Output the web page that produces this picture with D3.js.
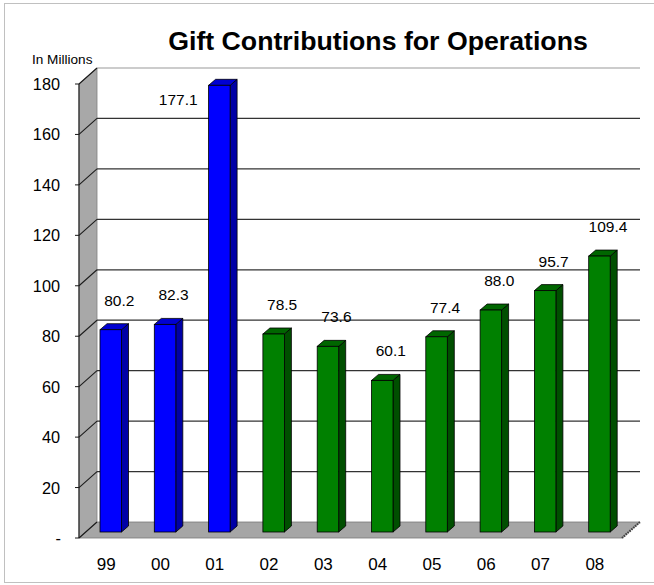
<!DOCTYPE html>
<html><head><meta charset="utf-8">
<script src="https://cdn.jsdelivr.net/npm/d3@7"></script>
<style>body{margin:0;background:#fff}svg{display:block;font-family:"Liberation Sans",Arial,sans-serif}</style>
</head><body><svg id="c" width="654" height="585"></svg>
<script>
const categories = ["99","00","01","02","03","04","05","06","07","08"];
const values = [80.2,82.3,177.1,78.5,73.6,60.1,77.4,88.0,95.7,109.4];
const valueLabels = ["80.2","82.3","177.1","78.5","73.6","60.1","77.4","88.0","95.7","109.4"];
const groups = ["blue","blue","blue","green","green","green","green","green","green","green"];
const tickValues = [0,20,40,60,80,100,120,140,160,180];
const tickLabels = ["-","20","40","60","80","100","120","140","160","180"];
const title = "Gift Contributions for Operations";
const unitLabel = "In Millions";

const palette = {
  blue: {front:"#0000ff", side:"#0000a6", top:"#0000d2"},
  green:{front:"#008000", side:"#004f00", top:"#006600"}
};

const svg = d3.select("#c");
// frame
svg.append("rect").attr("x",4.5).attr("y",3.5).attr("width",660).attr("height",579)
  .attr("fill","none").attr("stroke","#c0c0c0").attr("stroke-width",1);

const x = d3.scaleBand().domain(categories).range([79,622]).padding(0);
const y = d3.scaleLinear().domain([0,180]).range([538,84]);
const DX = 18, DY = -16;      // wall depth
const bdy = -6;               // bar front offset from front plane
const cdx = 7, cdy = -6;      // bar depth
const bw = 21.5, boff = 21;

// left side wall
svg.append("path").attr("d", `M79,${y(0)}L79,${y(180)}L${79+DX},${y(180)+DY}L${79+DX},${y(0)+DY}Z`)
  .attr("fill","#a8a8a8").attr("stroke","#808080").attr("stroke-width",0.8);
// floor
svg.append("path").attr("d", `M79,${y(0)}L622,${y(0)}L${622+DX},${y(0)+DY}L${79+DX},${y(0)+DY}Z`)
  .attr("fill","#a6a6a6").attr("stroke","#7a7a7a").attr("stroke-width",0.8);
// floor right edge (hatched thickness)
svg.append("line").attr("x1",622).attr("y1",y(0)).attr("x2",622+DX).attr("y2",y(0)+DY)
  .attr("stroke","#404040").attr("stroke-width",2.2).attr("stroke-dasharray","1.5,1");

// gridlines on back wall + diagonals on side wall
tickValues.forEach(v => {
  if (v === 0) return;
  const top = v === 180;
  svg.append("line").attr("x1",79+DX).attr("x2",640).attr("y1",y(v)+DY).attr("y2",y(v)+DY)
    .attr("stroke", top ? "#9a9a9a" : "#333").attr("stroke-width", top ? 1.2 : 1.3);
  svg.append("line").attr("x1",79).attr("y1",y(v)).attr("x2",79+DX).attr("y2",y(v)+DY)
    .attr("stroke","#1a1a1a").attr("stroke-width",1.1);
});
// axis line and ticks
svg.append("line").attr("x1",79).attr("x2",79).attr("y1",y(0)).attr("y2",y(180)).attr("stroke","#1a1a1a").attr("stroke-width",1.1);
svg.append("line").attr("x1",79).attr("x2",79+DX).attr("y1",y(0)).attr("y2",y(0)+DY).attr("stroke","#1a1a1a").attr("stroke-width",1.1);
svg.selectAll(".tk").data(tickValues).enter().append("line")
  .attr("x1",75).attr("x2",79).attr("y1",d=>y(d)).attr("y2",d=>y(d)).attr("stroke","#1a1a1a");
svg.selectAll(".tl").data(tickValues).enter().append("text")
  .attr("x",(d,i)=> i===0 ? 61 : 60).attr("y",d=>y(d)+6).attr("text-anchor","end")
  .attr("font-size",16.3).text((d,i)=>tickLabels[i]);

// bars
const data = categories.map((c,i)=>({c, v:values[i], g:groups[i], lab:valueLabels[i]}));
const bars = svg.selectAll(".bar").data(data).enter().append("g");
bars.each(function(d){
  const g = d3.select(this);
  const x0 = x(d.c)+boff, x1 = x0+bw;
  const yb = y(0)+bdy, yt = y(d.v)+bdy;
  const col = palette[d.g];
  g.append("path").attr("d",`M${x1},${yb}L${x1},${yt}L${x1+cdx},${yt+cdy}L${x1+cdx},${yb+cdy}Z`)
    .attr("fill",col.side).attr("stroke","#000").attr("stroke-width",0.8);
  g.append("path").attr("d",`M${x0},${yt}L${x1},${yt}L${x1+cdx},${yt+cdy}L${x0+cdx},${yt+cdy}Z`)
    .attr("fill",col.top).attr("stroke","#000").attr("stroke-width",0.8);
  g.append("rect").attr("x",x0).attr("y",yt).attr("width",bw).attr("height",yb-yt)
    .attr("fill",col.front).attr("stroke","#000").attr("stroke-width",0.8);
  // value label
  let lx = x0 + bw/2 + 8.5, ly = yt + cdy - 18, anchor = "middle";
  if (ly - 12 < y(180)) { lx = x0 - 11; ly = yt + 20; anchor = "end"; }
  g.append("text").attr("x",lx).attr("y",ly).attr("text-anchor",anchor).attr("font-size",15.5).text(d.lab);
});

// category labels
svg.selectAll(".cl").data(categories).enter().append("text")
  .attr("x",d=>x(d)+x.bandwidth()/2).attr("y",569.5).attr("text-anchor","middle")
  .attr("font-size",17).text(d=>d);

// unit label and title
svg.append("text").attr("x",32).attr("y",63.5).attr("font-size",13.6).text(unitLabel);
svg.append("text").attr("x",378).attr("y",50).attr("text-anchor","middle")
  .attr("font-size",26.7).attr("font-weight","bold").text(title);
</script></body></html>
